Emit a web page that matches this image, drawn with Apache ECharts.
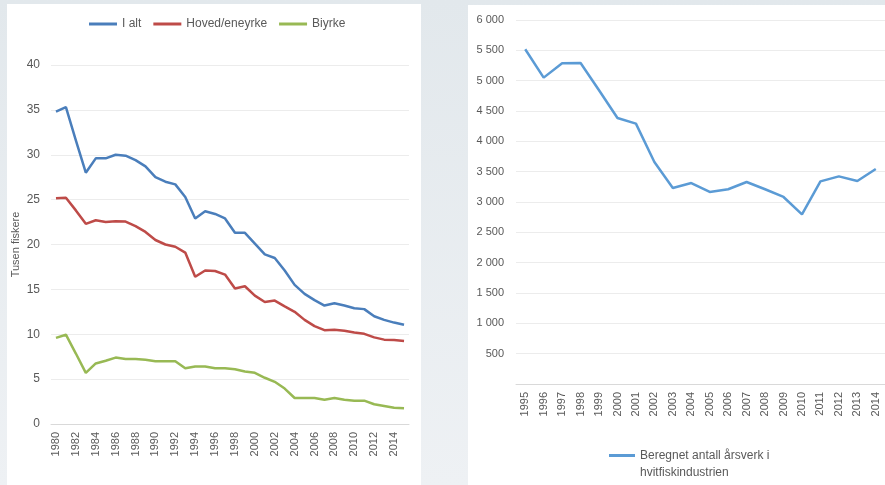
<!DOCTYPE html>
<html>
<head>
<meta charset="utf-8">
<script src="https://cdn.jsdelivr.net/npm/echarts@6/dist/echarts.min.js"></script>
<style>
body {
  margin: 0;
  width: 885px;
  height: 485px;
  overflow: hidden;
  background: linear-gradient(180deg, #e2e8ec 0%, #eef1f4 100%);
  position: relative;
}
.panel-left {
  position: absolute;
  left: 7px;
  top: 4px;
  width: 414px;
  height: 481px;
  background: #fff;
}
.panel-right {
  position: absolute;
  left: 468px;
  top: 5px;
  width: 417px;
  height: 480px;
  background: #fff;
}
#chart {
  position: absolute;
  left: 0;
  top: 0;
  width: 885px;
  height: 485px;
}
</style>
</head>
<body>
<div class="panel-left"></div>
<div class="panel-right"></div>
<div id="chart"></div>
<script>
// fiskere, tusen
const yearsLeft = ['1980', '1981', '1982', '1983', '1984', '1985', '1986', '1987', '1988', '1989',
  '1990', '1991', '1992', '1993', '1994', '1995', '1996', '1997', '1998', '1999',
  '2000', '2001', '2002', '2003', '2004', '2005', '2006', '2007', '2008', '2009',
  '2010', '2011', '2012', '2013', '2014', '2015']
const iAlt = [34.8, 35.3, 31.6, 28.0, 29.6, 29.6, 30.0, 29.9, 29.4, 28.7,
  27.5, 27.0, 26.7, 25.3, 22.9, 23.7, 23.4, 22.9, 21.3, 21.3,
  20.1, 18.9, 18.5, 17.1, 15.5, 14.5, 13.8, 13.2, 13.45, 13.2,
  12.9, 12.8, 12.0, 11.6, 11.3, 11.05]
const hovedEneyrke = [25.15, 25.2, 23.8, 22.3, 22.7, 22.5, 22.6, 22.55, 22.05, 21.4,
  20.5, 20.0, 19.75, 19.1, 16.4, 17.1, 17.05, 16.65, 15.1, 15.35,
  14.3, 13.6, 13.75, 13.1, 12.5, 11.6, 10.9, 10.45, 10.5, 10.4,
  10.2, 10.05, 9.65, 9.4, 9.35, 9.25]
const biyrke = [9.6, 9.95, 7.85, 5.7, 6.75, 7.05, 7.4, 7.25, 7.25, 7.15,
  7.0, 7.0, 7.0, 6.2, 6.4, 6.4, 6.2, 6.2, 6.1, 5.85,
  5.7, 5.15, 4.7, 3.95, 2.9, 2.9, 2.9, 2.7, 2.9, 2.7,
  2.6, 2.6, 2.2, 2.0, 1.8, 1.75]

// årsverk hvitfiskindustrien
const yearsRight = ['1995', '1996', '1997', '1998', '1999', '2000', '2001', '2002', '2003', '2004',
  '2005', '2006', '2007', '2008', '2009', '2010', '2011', '2012', '2013', '2014']
const aarsverk = [5517, 5050, 5287, 5290, 4842, 4385, 4292, 3660, 3231, 3313,
  3165, 3210, 3330, 3210, 3083, 2797, 3340, 3423, 3347, 3545]

const textColor = '#595959'
const font = 'Liberation Sans'

const fmtThousands = (v) => {
  if (v === 0) return ''
  return String(v).replace(/\B(?=(\d{3})+(?!\d))/g, ' ')
}

const chart = echarts.init(document.getElementById('chart'))

const option = {
  backgroundColor: 'transparent',
  animation: false,
  textStyle: { fontFamily: font },
  legend: [
    {
      data: ['I alt', 'Hoved/eneyrke', 'Biyrke'],
      left: 84,
      top: 13,
      icon: 'rect',
      itemWidth: 28,
      itemHeight: 3,
      itemGap: 12,
      textStyle: { color: textColor, fontSize: 12, fontFamily: font },
    },
    {
      data: ['Beregnet antall årsverk i hvitfiskindustrien'],
      left: 604,
      top: 425,
      icon: 'rect',
      itemWidth: 26,
      itemHeight: 3,
      // empty first line keeps the icon level with the first text line
      formatter: function () {
        return '\nBeregnet antall årsverk i\nhvitfiskindustrien'
      },
      textStyle: {
        color: textColor,
        fontSize: 12,
        fontFamily: font,
        lineHeight: 17,
      },
    },
  ],
  grid: [
    { left: 51, top: 65, width: 358, height: 359 },
    { left: 516, top: 20, width: 373, height: 364 },
  ],
  xAxis: [
    {
      type: 'category',
      gridIndex: 0,
      data: yearsLeft,
      boundaryGap: true,
      axisTick: { show: false },
      axisLine: { lineStyle: { color: '#d9d9d9' } },
      axisLabel: { interval: 1, rotate: 90, color: textColor, fontSize: 11, margin: 8 },
    },
    {
      type: 'category',
      gridIndex: 1,
      data: yearsRight,
      boundaryGap: true,
      axisTick: { show: false },
      axisLine: { lineStyle: { color: '#d9d9d9' } },
      axisLabel: { interval: 0, rotate: 90, color: textColor, fontSize: 11, margin: 8 },
    },
  ],
  yAxis: [
    {
      type: 'value',
      gridIndex: 0,
      min: 0,
      max: 40,
      interval: 5,
      name: 'Tusen fiskere',
      nameLocation: 'middle',
      nameGap: 30,
      nameRotate: 90,
      nameTextStyle: { color: textColor, fontSize: 11 },
      axisLine: { show: false },
      axisTick: { show: false },
      axisLabel: { color: textColor, fontSize: 12, margin: 11 },
      splitLine: { lineStyle: { color: '#ececec' } },
    },
    {
      type: 'value',
      gridIndex: 1,
      min: 0,
      max: 6000,
      interval: 500,
      axisLine: { show: false },
      axisTick: { show: false },
      axisLabel: { color: textColor, fontSize: 11, margin: 12, formatter: fmtThousands },
      splitLine: { lineStyle: { color: '#ececec' } },
    },
  ],
  series: [
    {
      name: 'I alt',
      type: 'line',
      xAxisIndex: 0,
      yAxisIndex: 0,
      data: iAlt,
      showSymbol: false,
      color: '#4a7ebb',
      lineStyle: { width: 2.5, color: '#4a7ebb' },
    },
    {
      name: 'Hoved/eneyrke',
      type: 'line',
      xAxisIndex: 0,
      yAxisIndex: 0,
      data: hovedEneyrke,
      showSymbol: false,
      color: '#be4b48',
      lineStyle: { width: 2.5, color: '#be4b48' },
    },
    {
      name: 'Biyrke',
      type: 'line',
      xAxisIndex: 0,
      yAxisIndex: 0,
      data: biyrke,
      showSymbol: false,
      color: '#98b954',
      lineStyle: { width: 2.5, color: '#98b954' },
    },
    {
      name: 'Beregnet antall årsverk i hvitfiskindustrien',
      type: 'line',
      xAxisIndex: 1,
      yAxisIndex: 1,
      data: aarsverk,
      showSymbol: false,
      color: '#5b9bd5',
      lineStyle: { width: 2.5, color: '#5b9bd5' },
    },
  ],
}

chart.setOption(option)
</script>
</body>
</html>
